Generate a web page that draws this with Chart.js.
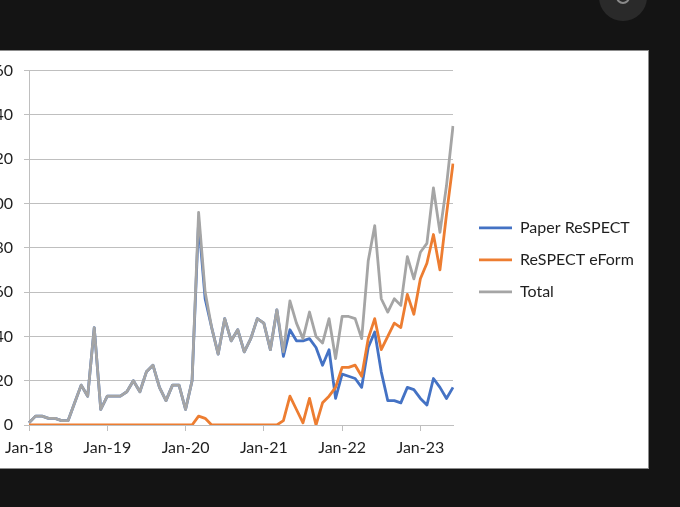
<!DOCTYPE html>
<html>
<head>
<meta charset="utf-8">
<script src="https://cdn.jsdelivr.net/npm/chart.js@4.4.1/dist/chart.umd.min.js"></script>
<style>
  html, body { margin: 0; padding: 0; background: #141414; overflow: hidden; }
  body { width: 680px; height: 507px; position: relative; }
  #panel {
    position: absolute; left: -1px; top: 50px; width: 650px; height: 419px;
    box-sizing: border-box; background: #fff; border: 1px solid #8c8c8c; overflow: hidden;
  }
  #grafico { position: absolute; left: -19px; top: -1px; width: 668px; height: 418px; }
  #boton {
    position: absolute; left: 599px; top: -27px; width: 48px; height: 48px;
    border-radius: 50%; background: #2a2a2a;
  }
  #boton::after {
    content: ""; position: absolute; left: 17px; top: 17px; width: 10px; height: 10px;
    border-radius: 50%; border: 2px solid #8a8a8a;
  }
</style>
</head>
<body>
<div id="boton"></div>
<div id="panel"><canvas id="grafico" width="668" height="418"></canvas></div>
<script>
// Meses (Jan-18 .. Jun-23)
const meses = [
  'Jan-18','Feb-18','Mar-18','Apr-18','May-18','Jun-18','Jul-18','Aug-18','Sep-18','Oct-18','Nov-18','Dec-18',
  'Jan-19','Feb-19','Mar-19','Apr-19','May-19','Jun-19','Jul-19','Aug-19','Sep-19','Oct-19','Nov-19','Dec-19',
  'Jan-20','Feb-20','Mar-20','Apr-20','May-20','Jun-20','Jul-20','Aug-20','Sep-20','Oct-20','Nov-20','Dec-20',
  'Jan-21','Feb-21','Mar-21','Apr-21','May-21','Jun-21','Jul-21','Aug-21','Sep-21','Oct-21','Nov-21','Dec-21',
  'Jan-22','Feb-22','Mar-22','Apr-22','May-22','Jun-22','Jul-22','Aug-22','Sep-22','Oct-22','Nov-22','Dec-22',
  'Jan-23','Feb-23','Mar-23','Apr-23','May-23','Jun-23'
];

const paper = [
  1, 4, 4, 3, 3, 2, 2, 10, 18, 13, 44, 7,
  13, 13, 13, 15, 20, 15, 24, 27, 17, 11, 18, 18,
  7, 20, 92, 57, 44, 32, 48, 38, 43, 33, 39, 48,
  46, 34, 52, 31, 43, 38, 38, 39, 35, 27, 34, 12,
  23, 22, 21, 17, 35, 42, 24, 11, 11, 10, 17, 16,
  12, 9, 21, 17, 12, 17
];

const eform = [
  0, 0, 0, 0, 0, 0, 0, 0, 0, 0, 0, 0,
  0, 0, 0, 0, 0, 0, 0, 0, 0, 0, 0, 0,
  0, 0, 4, 3, 0, 0, 0, 0, 0, 0, 0, 0,
  0, 0, 0, 2, 13, 7, 1, 12, 0, 10, 13, 17,
  26, 26, 27, 22, 39, 48, 34, 40, 46, 44, 59, 50,
  66, 73, 86, 70, 95, 118
];

const total = [
  1, 4, 4, 3, 3, 2, 2, 10, 18, 13, 44, 7,
  13, 13, 13, 15, 20, 15, 24, 27, 17, 11, 18, 18,
  7, 20, 96, 60, 44, 32, 48, 38, 43, 33, 39, 48,
  46, 34, 52, 33, 56, 46, 39, 51, 40, 37, 48, 30,
  49, 49, 48, 39, 74, 90, 57, 51, 57, 54, 76, 66,
  78, 82, 107, 87, 108, 135
];

const yTicks = [0, 20, 40, 60, 80, 100, 120, 140, 160];

const colorGrid = '#bfbfbf';
const colorTexto = '#1f1f1f';
const grosor = 2.8;
Chart.defaults.font.family = 'Lato, "Liberation Sans", sans-serif';

const canvas = document.getElementById('grafico');

// Total va primero para quedar dibujado encima; la leyenda se invierte
new Chart(canvas, {
  type: 'line',
  data: {
    labels: meses,
    datasets: [
      { label: 'Total', data: total, borderColor: '#a5a5a5', backgroundColor: '#a5a5a5' },
      { label: 'ReSPECT eForm', data: eform, borderColor: '#ed7d31', backgroundColor: '#ed7d31' },
      { label: 'Paper ReSPECT', data: paper, borderColor: '#4472c4', backgroundColor: '#4472c4' }
    ]
  },
  options: {
    responsive: false,
    animation: false,
    elements: {
      line: { borderWidth: grosor, tension: 0, borderJoinStyle: 'round' },
      // el grosor del punto es el que usa la leyenda para la línea
      point: { radius: 0, hoverRadius: 0, borderWidth: grosor }
    },
    layout: { padding: { top: 19, bottom: 0, left: 0, right: 16 } },
    plugins: {
      tooltip: { enabled: false },
      legend: {
        position: 'right',
        fullSize: false,
        reverse: true,
        maxWidth: 170,
        // título vacío solo para bajar un poco la leyenda
        title: { display: true, text: '', font: { size: 10 }, padding: 6 },
        labels: {
          usePointStyle: true,
          pointStyle: 'line',
          pointStyleWidth: 33,
          padding: 16,
          color: colorTexto,
          font: { size: 16 }
        }
      }
    },
    scales: {
      x: {
        grid: { display: true, drawOnChartArea: false, drawTicks: true, tickLength: 6, color: colorGrid },
        border: { display: true, color: colorGrid, width: 1 },
        ticks: {
          autoSkip: false,
          maxRotation: 0,
          padding: 7,
          color: colorTexto,
          font: { size: 16 },
          callback: function (val, i) {
            return i % 12 === 0 ? this.getLabelForValue(val) : null;
          }
        },
        afterFit: (s) => { s.height = 43; }
      },
      y: {
        min: yTicks[0],
        max: yTicks[yTicks.length - 1],
        grid: { color: colorGrid, tickLength: 5, drawTicks: true },
        border: { display: true, color: colorGrid, width: 1 },
        ticks: {
          stepSize: yTicks[1] - yTicks[0],
          padding: 11,
          color: colorTexto,
          font: { size: 16 }
        },
        afterFit: (s) => { s.width = 48; }
      },
      espacio: {
        position: 'right',
        display: true,
        grid: { display: false },
        border: { display: false },
        ticks: { display: false },
        afterFit: (s) => { s.width = 10; }
      }
    }
  }
});
</script>
</body>
</html>
